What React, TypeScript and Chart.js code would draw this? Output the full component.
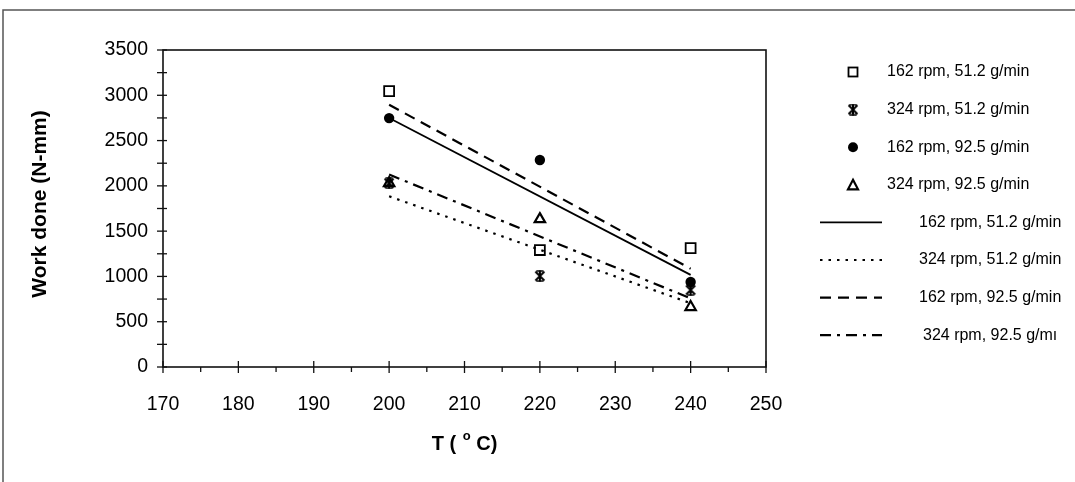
import React, { useEffect, useRef } from "react";
import { Chart, registerables } from "chart.js";

Chart.register(...registerables);

// ---- Data ----
const temperatures = [200, 220, 240];
const work162_512 = [3046, 1291, 1313]; // squares
const work324_512 = [2030, 1004, 850]; // stars
const work162_925 = [2748, 2285, 938]; // filled circles
const work324_925 = [2030, 1633, 662]; // triangles

const markerLabels = [
  "162 rpm, 51.2 g/min",
  "324 rpm, 51.2 g/min",
  "162 rpm, 92.5 g/min",
  "324 rpm, 92.5 g/min",
];
const lineLabels = [
  "162 rpm, 51.2 g/min",
  "324 rpm, 51.2 g/min",
  "162 rpm, 92.5 g/min",
  "324 rpm, 92.5 g/mı",
];

const xMin = 170;
const xMax = 250;
const xStep = 10;
const yMin = 0;
const yMax = 3500;
const yStep = 500;

const xTitle = "T ( ° C)";
const yTitle = "Work done (N-mm)";

// linear trend line (least squares) evaluated at the first and last temperature
function trend(xs: number[], ys: number[]) {
  const n = xs.length;
  const mx = xs.reduce((a, b) => a + b, 0) / n;
  const my = ys.reduce((a, b) => a + b, 0) / n;
  let sxy = 0;
  let sxx = 0;
  for (let i = 0; i < n; i++) {
    sxy += (xs[i] - mx) * (ys[i] - my);
    sxx += (xs[i] - mx) * (xs[i] - mx);
  }
  const m = sxy / sxx;
  const b = my - m * mx;
  const x0 = xs[0];
  const x1 = xs[n - 1];
  return [
    { x: x0, y: m * x0 + b },
    { x: x1, y: m * x1 + b },
  ];
}

function makeStar(size: number): HTMLCanvasElement {
  const c = document.createElement("canvas");
  c.width = size;
  c.height = size;
  const g = c.getContext("2d")!;
  g.strokeStyle = "#000";
  g.lineWidth = 2;
  g.lineCap = "butt";
  const p = 1.5;
  g.beginPath();
  g.moveTo(p, p);
  g.lineTo(size - p, size - p);
  g.moveTo(size - p, p);
  g.lineTo(p, size - p);
  g.moveTo(size / 2, 0.5);
  g.lineTo(size / 2, size - 0.5);
  g.stroke();
  g.lineWidth = 1.6;
  g.beginPath();
  g.moveTo(size * 0.2, 1);
  g.lineTo(size * 0.8, 1);
  g.moveTo(size * 0.2, size - 1);
  g.lineTo(size * 0.8, size - 1);
  g.stroke();
  return c;
}

const FONT = "'Liberation Sans', Arial, Helvetica, sans-serif";

export default function App() {
  const ref = useRef<HTMLCanvasElement | null>(null);

  useEffect(() => {
    document.body.style.margin = "0";
    document.body.style.overflow = "hidden";
    const canvas = ref.current;
    if (!canvas) return;
    const star = makeStar(12);

    const lineDashes = [[], [2.5, 6], [11, 7], [11, 6, 3, 6]];

    const pagePlugin = {
      id: "pageFrame",
      beforeDraw(chart: any) {
        const ctx = chart.ctx;
        ctx.save();
        ctx.fillStyle = "#ffffff";
        ctx.fillRect(0, 0, chart.width, chart.height);
        ctx.strokeStyle = "#555";
        ctx.lineWidth = 1.5;
        ctx.beginPath();
        ctx.moveTo(3, chart.height);
        ctx.lineTo(3, 10);
        ctx.lineTo(chart.width, 10);
        ctx.stroke();
        ctx.restore();
      },
      afterDraw(chart: any) {
        const ctx = chart.ctx;
        const a = chart.chartArea;
        const xs = chart.scales.x;
        const ys = chart.scales.y;
        ctx.save();
        // plot frame
        ctx.strokeStyle = "#111";
        ctx.lineWidth = 1.6;
        ctx.strokeRect(a.left, a.top, a.right - a.left, a.bottom - a.top);
        // x ticks (major cross the axis, minor below)
        ctx.lineWidth = 1.3;
        for (let v = xMin; v <= xMax; v += xStep / 2) {
          const px = xs.getPixelForValue(v);
          const major = (v - xMin) % xStep === 0;
          ctx.beginPath();
          ctx.moveTo(px, a.bottom - (major ? 6 : 0));
          ctx.lineTo(px, a.bottom + (major ? 6 : 5));
          ctx.stroke();
        }
        // y ticks
        for (let v = yMin; v <= yMax; v += yStep / 2) {
          const py = ys.getPixelForValue(v);
          ctx.beginPath();
          ctx.moveTo(a.left - 6, py);
          ctx.lineTo(a.left + 4, py);
          ctx.stroke();
        }
        // axis titles
        ctx.fillStyle = "#000";
        ctx.font = `bold 21px ${FONT}`;
        ctx.textAlign = "center";
        ctx.textBaseline = "middle";
        ctx.save();
        ctx.translate(40, 204);
        ctx.rotate(-Math.PI / 2);
        ctx.fillText(yTitle, 0, 0);
        ctx.restore();
        // x title with superscript degree "o"
        const parts = xTitle.split("°");
        const p1 = parts[0];
        const p2 = parts[1];
        ctx.font = `bold 20px ${FONT}`;
        const w1 = ctx.measureText(p1).width;
        const w3 = ctx.measureText(p2).width;
        ctx.font = `bold 13px ${FONT}`;
        const w2 = ctx.measureText("o").width + 1;
        const total = w1 + w2 + w3;
        const x0 = (a.left + a.right) / 2 - total / 2;
        const ty = 444;
        ctx.textAlign = "left";
        ctx.font = `bold 20px ${FONT}`;
        ctx.fillText(p1, x0, ty);
        ctx.font = `bold 13px ${FONT}`;
        ctx.fillText("o", x0 + w1 + 1, ty - 8);
        ctx.font = `bold 20px ${FONT}`;
        ctx.fillText(p2, x0 + w1 + w2, ty);

        // legend
        ctx.font = `16px ${FONT}`;
        ctx.textBaseline = "middle";
        const rowY0 = 72;
        const rowGap = 37.6;
        for (let i = 0; i < markerLabels.length; i++) {
          const cy = rowY0 + i * rowGap;
          const cx = 853;
          ctx.strokeStyle = "#000";
          ctx.fillStyle = "#000";
          ctx.lineWidth = 1.8;
          ctx.setLineDash([]);
          if (i === 0) {
            ctx.strokeRect(cx - 4.5, cy - 4.5, 9, 9);
          } else if (i === 1) {
            ctx.drawImage(star, cx - 6, cy - 6);
          } else if (i === 2) {
            ctx.beginPath();
            ctx.arc(cx, cy, 5, 0, Math.PI * 2);
            ctx.fill();
          } else {
            ctx.lineWidth = 2.2;
            ctx.beginPath();
            ctx.moveTo(cx, cy - 5);
            ctx.lineTo(cx + 5, cy + 4.5);
            ctx.lineTo(cx - 5, cy + 4.5);
            ctx.closePath();
            ctx.stroke();
          }
          ctx.fillText(markerLabels[i], 887, cy);
        }
        for (let i = 0; i < lineLabels.length; i++) {
          const cy = rowY0 + (i + 4) * rowGap;
          ctx.strokeStyle = "#000";
          ctx.lineWidth = i === 0 ? 1.8 : 2.2;
          ctx.setLineDash(lineDashes[i]);
          ctx.beginPath();
          ctx.moveTo(820, cy);
          ctx.lineTo(882, cy);
          ctx.stroke();
          ctx.setLineDash([]);
          ctx.fillText(lineLabels[i], i === 3 ? 923 : 919, cy);
        }
        ctx.restore();
      },
    };

    const pts = (ys: number[]) => temperatures.map((t, i) => ({ x: t, y: ys[i] }));

    const chart = new Chart(canvas, {
      type: "scatter",
      data: {
        datasets: [
          {
            label: markerLabels[0],
            data: pts(work162_512),
            pointStyle: "rect",
            pointRadius: 7,
            pointBorderWidth: 1.8,
            pointBackgroundColor: "rgba(255,255,255,0)",
            pointBorderColor: "#000",
            borderColor: "#000",
            backgroundColor: "rgba(255,255,255,0)",
          },
          {
            label: markerLabels[1],
            data: pts(work324_512),
            pointStyle: star,
            pointRadius: 6,
            borderColor: "#000",
          },
          {
            label: markerLabels[2],
            data: pts(work162_925),
            pointStyle: "circle",
            pointRadius: 5.2,
            pointBorderWidth: 0,
            pointBackgroundColor: "#000",
            pointBorderColor: "#000",
            borderColor: "#000",
            backgroundColor: "#000",
          },
          {
            label: markerLabels[3],
            data: pts(work324_925),
            pointStyle: "triangle",
            pointRadius: 6,
            pointBorderWidth: 2.2,
            pointBackgroundColor: "rgba(255,255,255,0)",
            pointBorderColor: "#000",
            borderColor: "#000",
            backgroundColor: "rgba(255,255,255,0)",
          },
          ...[work162_512, work324_512, work162_925, work324_925].map((ys, i) => ({
            label: lineLabels[i],
            data: trend(temperatures, ys),
            showLine: true,
            pointRadius: 0,
            borderColor: "#000",
            borderWidth: i === 0 ? 1.8 : 2.2,
            borderDash: lineDashes[i],
            backgroundColor: "#000",
            fill: false,
          })),
        ],
      },
      options: {
        animation: false,
        responsive: false,
        maintainAspectRatio: false,
        events: [],
        layout: { padding: { left: 0, right: 309, top: 50, bottom: 0 } },
        plugins: {
          legend: { display: false },
          tooltip: { enabled: false },
          title: { display: false },
        },
        scales: {
          x: {
            type: "linear",
            min: xMin,
            max: xMax,
            afterFit: (s: any) => {
              s.height = 115;
            },
            grid: { display: false, drawTicks: false },
            border: { display: false },
            ticks: {
              stepSize: xStep,
              padding: 26,
              color: "#000",
              font: { family: FONT, size: 19.5 },
              maxRotation: 0,
              callback: (v: any) => String(v),
            },
          },
          y: {
            type: "linear",
            min: yMin,
            max: yMax,
            afterFit: (s: any) => {
              s.width = 163;
            },
            grid: { display: false, drawTicks: false },
            border: { display: false },
            ticks: {
              stepSize: yStep,
              padding: 15,
              color: "#000",
              font: { family: FONT, size: 19.5 },
              callback: (v: any) => String(v),
            },
          },
        },
      },
      plugins: [pagePlugin],
    } as any);

    return () => chart.destroy();
  }, []);

  return (
    <div style={{ width: 1075, height: 482 }}>
      <canvas ref={ref} width={1075} height={482} style={{ display: "block" }} />
    </div>
  );
}
